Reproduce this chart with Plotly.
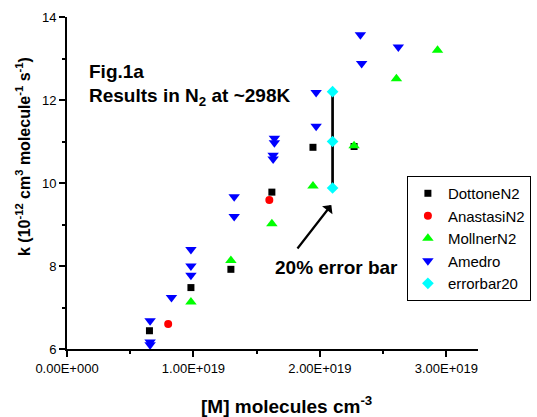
import plotly.graph_objects as go

# ---- data (x in molecules cm^-3, y in 1e-12 cm3 molecule-1 s-1) ----
dottone_x = [0.652e19, 0.98e19, 1.296e19, 1.62e19, 1.945e19, 2.27e19]
dottone_y = [6.44, 7.48, 7.92, 9.78, 10.86, 10.88]

anastasi_x = [0.80e19, 1.60e19]
anastasi_y = [6.60, 9.59]

mollner_x = [0.98e19, 1.296e19, 1.62e19, 1.945e19, 2.27e19, 2.605e19, 2.93e19]
mollner_y = [7.13, 8.13, 9.02, 9.93, 10.90, 12.51, 13.20]

amedro_x = [0.657e19, 0.657e19, 0.657e19, 0.826e19, 0.98e19, 0.98e19, 0.98e19,
            1.322e19, 1.322e19, 1.64e19, 1.64e19, 1.63e19, 1.63e19,
            1.97e19, 1.97e19, 2.32e19, 2.33e19, 2.62e19]
amedro_y = [6.68, 6.17, 6.10, 7.24, 8.40, 8.00, 7.78,
            9.67, 9.19, 11.08, 10.97, 10.67, 10.58,
            12.18, 11.37, 13.57, 12.88, 13.28]

err_x = [2.10e19, 2.10e19, 2.10e19]
err_y = [12.2, 11.0, 9.88]

x_tickvals = [0, 1e19, 2e19, 3e19]
x_ticktext = ["0.00E+000", "1.00E+019", "2.00E+019", "3.00E+019"]
x_minorvals = [0.5e19, 1.5e19, 2.5e19]

FONT = "Arial, Liberation Sans, sans-serif"

fig = go.Figure()

# black 20% error bar line (not in legend)
fig.add_trace(go.Scatter(x=err_x, y=err_y, mode="lines",
                         line=dict(color="black", width=2.7),
                         showlegend=False, hoverinfo="skip"))

fig.add_trace(go.Scatter(x=dottone_x, y=dottone_y, mode="markers", name="DottoneN2",
                         marker=dict(symbol="square", size=7, color="#000000")))
fig.add_trace(go.Scatter(x=anastasi_x, y=anastasi_y, mode="markers", name="AnastasiN2",
                         marker=dict(symbol="circle", size=8, color="#ff0000")))
fig.add_trace(go.Scatter(x=mollner_x, y=mollner_y, mode="markers", name="MollnerN2",
                         marker=dict(symbol="triangle-up", size=10, color="#00ff00")))
fig.add_trace(go.Scatter(x=amedro_x, y=amedro_y, mode="markers", name="Amedro",
                         marker=dict(symbol="triangle-down", size=10, color="#0000ff")))
fig.add_trace(go.Scatter(x=err_x, y=err_y, mode="markers", name="errorbar20",
                         marker=dict(symbol="diamond", size=9, color="#00ffff")))

fig.update_layout(
    width=537, height=417,
    margin=dict(l=67, r=59, t=17, b=68, autoexpand=False),
    paper_bgcolor="white", plot_bgcolor="white",
    font=dict(family=FONT, color="black", size=13),
    legend=dict(x=0.827, y=0.521, xanchor="left", yanchor="top",
                bordercolor="black", borderwidth=1,
                font=dict(size=15, family=FONT, color="black"),
                tracegroupgap=0, bgcolor="white"),
    xaxis=dict(range=[0, 3.25e19], showgrid=False, zeroline=False, automargin=False,
               showline=True, linecolor="black", linewidth=2,
               ticks="outside", ticklen=6, tickwidth=2, tickcolor="black",
               tickmode="array", tickvals=x_tickvals, ticktext=x_ticktext,
               tickfont=dict(size=13),
               minor=dict(tickmode="array", tickvals=x_minorvals, ticks="outside",
                          ticklen=3, tickwidth=2, tickcolor="black")),
    yaxis=dict(range=[6, 14], showgrid=False, zeroline=False, automargin=False,
               showline=True, linecolor="black", linewidth=2,
               ticks="outside", ticklen=6, tickwidth=2, tickcolor="black",
               dtick=2, tick0=6, tickfont=dict(size=13),
               minor=dict(dtick=1, ticks="outside", ticklen=3, tickwidth=2,
                          tickcolor="black")),
    showlegend=True,
)

ann_font = dict(family=FONT, size=19, color="black")
fig.add_annotation(xref="paper", yref="paper", x=(87 - 67) / 411, y=(349 - 72) / 332,
                   xanchor="left", yanchor="middle", showarrow=False,
                   text="<b>Fig.1a</b>", font=ann_font)
fig.add_annotation(xref="paper", yref="paper", x=(87 - 67) / 411, y=(349 - 97) / 332,
                   xanchor="left", yanchor="middle", showarrow=False,
                   text="<b>Results in N<sub>2</sub> at ~298K</b>", font=ann_font)
fig.add_annotation(x=2.134e19, y=7.96, xanchor="center", yanchor="middle",
                   showarrow=False, text="<b>20% error bar</b>", font=ann_font)
fig.add_annotation(x=2.09e19, y=9.47, ax=-35, ay=45, text="", showarrow=True,
                   arrowhead=1, arrowsize=1, arrowwidth=2.2, arrowcolor="black")
# axis titles
fig.add_annotation(xref="paper", yref="paper", x=(286 - 67) / 411, y=(349 - 405) / 332,
                   xanchor="center", yanchor="middle", showarrow=False,
                   text="<b>[M] molecules cm<sup>-3</sup></b>", font=ann_font)
fig.add_annotation(xref="paper", yref="paper", x=(23 - 67) / 411, y=(349 - 157) / 332,
                   xanchor="center", yanchor="middle", showarrow=False, textangle=-90,
                   text="<b>k (10<sup>-12</sup> cm<sup>3</sup> molecule<sup>-1</sup> s<sup>-1</sup>)</b>",
                   font=dict(family=FONT, size=16, color="black"))

fig.write_html("out.html", config={"displayModeBar": False},
               post_script="document.body.style.margin='0';document.body.style.padding='0';")
